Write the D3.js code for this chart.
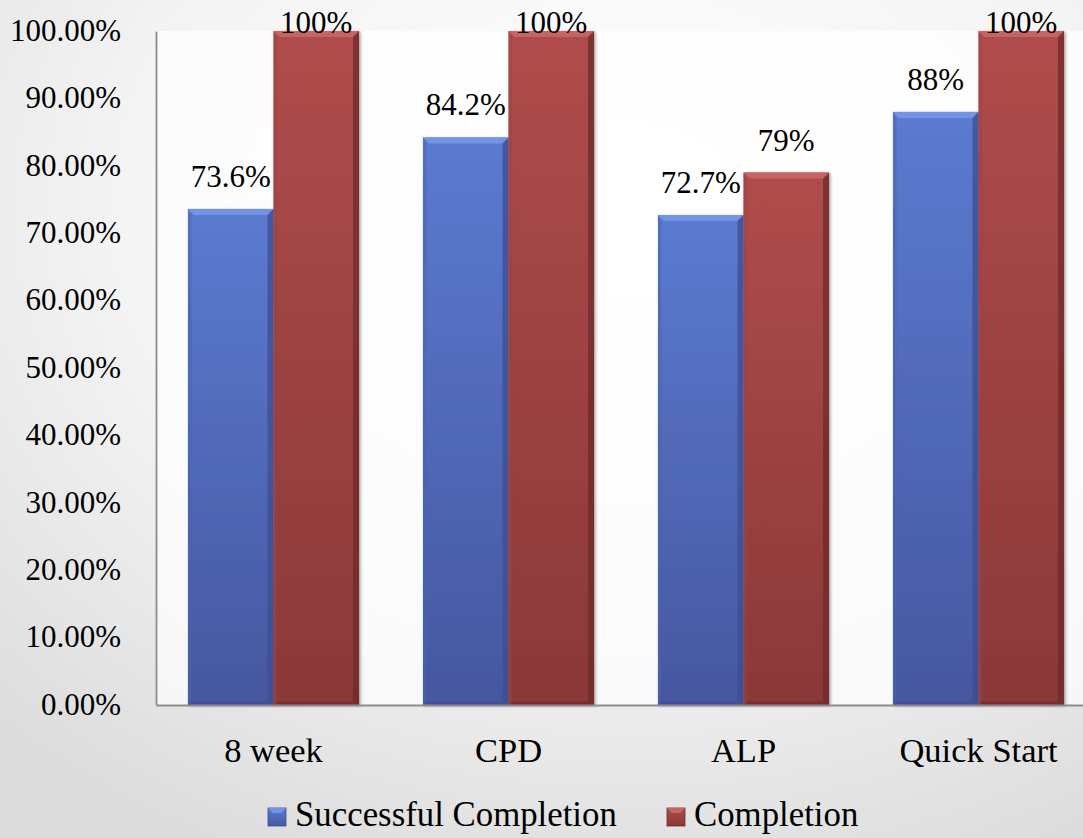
<!DOCTYPE html>
<html>
<head>
<meta charset="utf-8">
<script src="https://cdn.jsdelivr.net/npm/d3@7"></script>
<style>
  html, body { margin: 0; padding: 0; background: #fff; }
  svg { display: block; }
  text { font-family: "Liberation Serif", "DejaVu Serif", serif; fill: #000; }
</style>
</head>
<body>
<svg id="chart" width="1083" height="838"></svg>
<script>
// Program completion rates
const categories = ["8 week", "CPD", "ALP", "Quick Start"];
const seriesNames = ["Successful Completion", "Completion"];
const successfulCompletion = [0.736, 0.842, 0.727, 0.88];
const completion = [1.00, 1.00, 0.79, 1.00];
const successfulLabels = ["73.6%", "84.2%", "72.7%", "88%"];
const completionLabels = ["100%", "100%", "79%", "100%"];
const yTicks = [0, 0.1, 0.2, 0.3, 0.4, 0.5, 0.6, 0.7, 0.8, 0.9, 1.0];

const W = 1083, H = 838;
const plot = { left: 156, right: 1096, top: 31, bottom: 705 };
const FONT = "'Liberation Serif', 'DejaVu Serif', serif";

const palette = {
  "Successful Completion": { top: "#7393e4", hi: "#5b7bd0", lo: "#4657a0", side: "#4a62b4", dark: "#3c4d92" },
  "Completion": { top: "#c86464", hi: "#b04c4c", lo: "#8a3838", side: "#9c4242", dark: "#6d2a2a" }
};

const rows = categories.map((c, i) => ({
  category: c,
  values: [
    { series: seriesNames[0], value: successfulCompletion[i], label: successfulLabels[i] },
    { series: seriesNames[1], value: completion[i], label: completionLabels[i] }
  ]
}));

const svg = d3.select("#chart");
const defs = svg.append("defs");

// slide background: soft radial fade from white to light grey
const bg = defs.append("radialGradient").attr("id", "bg")
  .attr("cx", "58%").attr("cy", "25%").attr("r", "85%");
bg.append("stop").attr("offset", "0%").attr("stop-color", "#ffffff");
bg.append("stop").attr("offset", "55%").attr("stop-color", "#f4f4f4");
bg.append("stop").attr("offset", "100%").attr("stop-color", "#dcdcdc");

seriesNames.forEach((s, i) => {
  const g = defs.append("linearGradient").attr("id", "fill" + i)
    .attr("x1", 0).attr("y1", 0).attr("x2", 0).attr("y2", 1);
  g.append("stop").attr("offset", "0%").attr("stop-color", palette[s].hi);
  g.append("stop").attr("offset", "100%").attr("stop-color", palette[s].lo);
});

const shadow = defs.append("filter").attr("id", "shadow")
  .attr("x", "-10%").attr("y", "-10%").attr("width", "130%").attr("height", "130%");
shadow.append("feDropShadow").attr("dx", 1.5).attr("dy", 1).attr("stdDeviation", 1.5)
  .attr("flood-color", "#000").attr("flood-opacity", 0.35);

svg.append("rect").attr("width", W).attr("height", H).attr("fill", "url(#bg)");

// plot area
svg.append("rect")
  .attr("x", plot.left).attr("y", plot.top)
  .attr("width", plot.right - plot.left).attr("height", plot.bottom - plot.top)
  .attr("fill", "#ffffff").attr("fill-opacity", 0.7);

const x0 = d3.scaleBand().domain(categories)
  .range([plot.left, plot.right]).paddingInner(0.272).paddingOuter(0.136);
const x1 = d3.scaleBand().domain(seriesNames).range([0, x0.bandwidth()]);
const y = d3.scaleLinear().domain([0, 1]).range([plot.bottom, plot.top]);

// bars with bevelled edges
const bev = 6;
const groups = svg.append("g").selectAll("g").data(rows).join("g")
  .attr("transform", d => `translate(${x0(d.category)},0)`);

const bars = groups.selectAll("g.bar").data(d => d.values).join("g")
  .attr("class", "bar")
  .attr("filter", "url(#shadow)");

bars.each(function(d) {
  const g = d3.select(this);
  const idx = seriesNames.indexOf(d.series);
  const c = palette[d.series];
  const bx = x1(d.series), bw = x1.bandwidth();
  const top = y(d.value), bot = y(0);
  g.append("rect").attr("x", bx).attr("y", top).attr("width", bw).attr("height", bot - top)
    .attr("fill", `url(#fill${idx})`);
  // top bevel
  g.append("polygon").attr("points", [
    [bx, top], [bx + bw, top], [bx + bw - bev, top + bev], [bx + bev, top + bev]
  ].map(p => p.join(",")).join(" ")).attr("fill", c.top);
  // left bevel
  g.append("polygon").attr("points", [
    [bx, top], [bx + bev * 0.6, top + bev], [bx + bev * 0.6, bot - bev * 0.6], [bx, bot]
  ].map(p => p.join(",")).join(" ")).attr("fill", c.side).attr("fill-opacity", 0.5);
  // right bevel
  g.append("polygon").attr("points", [
    [bx + bw, top], [bx + bw - bev, top + bev], [bx + bw - bev, bot - bev * 0.6], [bx + bw, bot]
  ].map(p => p.join(",")).join(" ")).attr("fill", c.dark).attr("fill-opacity", 0.75);
  // bottom bevel
  g.append("polygon").attr("points", [
    [bx, bot], [bx + bev * 0.6, bot - bev * 0.6], [bx + bw - bev, bot - bev * 0.6], [bx + bw, bot]
  ].map(p => p.join(",")).join(" ")).attr("fill", c.dark).attr("fill-opacity", 0.6);
});

// value labels above bars, kept inside the chart's top edge
groups.selectAll("text.val").data(d => d.values).join("text")
  .attr("class", "val")
  .attr("x", d => x1(d.series) + x1.bandwidth() / 2)
  .attr("y", d => Math.max(y(d.value) - 22, 33))
  .attr("text-anchor", "middle")
  .style("font-family", FONT)
  .style("font-size", "31px")
  .text(d => d.label);

// y axis
const yAxis = svg.append("g").attr("transform", `translate(${plot.left},0)`)
  .call(d3.axisLeft(y).tickValues(yTicks).tickFormat(d3.format(".2%")).tickSize(0).tickPadding(35));
yAxis.attr("font-family", null).attr("font-size", null);
yAxis.select(".domain").attr("stroke", "#8c8c8c").attr("stroke-width", 1.8);
yAxis.selectAll("text").style("font-size", "31px").attr("dy", "0.3em")
  .style("font-family", FONT).attr("fill", "#000");

// x axis
const xAxis = svg.append("g").attr("transform", `translate(0,${plot.bottom})`)
  .call(d3.axisBottom(x0).tickSize(0).tickPadding(33));
xAxis.attr("font-family", null).attr("font-size", null);
xAxis.select(".domain").attr("stroke", "#8c8c8c").attr("stroke-width", 1.8);
xAxis.selectAll("text").style("font-size", "34.5px").attr("dy", "0.71em")
  .style("font-family", FONT).attr("fill", "#000");

// legend
const legendX = [268, 667];
const legend = svg.append("g").selectAll("g").data(seriesNames).join("g")
  .attr("transform", (d, i) => `translate(${legendX[i]},808)`);
legend.append("rect").attr("width", 18).attr("height", 18)
  .attr("fill", (d, i) => `url(#fill${i})`)
  .attr("stroke", d => palette[d].dark).attr("stroke-width", 0.8);
legend.append("polygon").attr("points", "0,0 18,0 13,5 5,5")
  .attr("fill", d => palette[d].top);
legend.append("text").attr("x", 27).attr("y", 18)
  .style("font-family", FONT)
  .style("font-size", "34.8px").text(d => d);
</script>
</body>
</html>
